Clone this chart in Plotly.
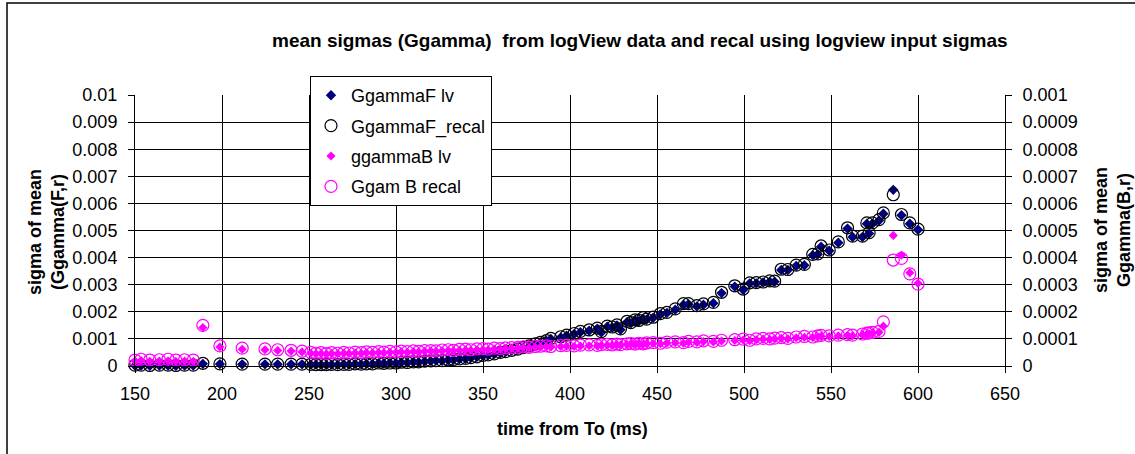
import plotly.graph_objects as go

time_ms = [
    150, 153.5, 158.5, 164, 169, 173.5, 178.5, 183.5,
    189, 198.8, 211.6, 224.7, 232, 239.7, 246,
    251, 254, 257, 260, 263, 266.5, 270, 273, 276.5, 280,
    283, 286.5, 290, 293, 296.5, 300, 303, 306.5, 310, 313,
    316.5, 320, 323, 326.5, 330, 333, 336.5, 340, 343, 346.5,
    350, 353, 356.5, 360, 363, 366.5, 370, 373, 376.5, 380,
    383, 386.5, 389, 394.7, 398, 402.4, 406, 411, 415.7, 418,
    421.4, 424.3, 427, 429, 432.8, 435, 437.4, 439.5, 442, 444,
    447.8, 451.9, 455.7, 460.5, 465.2, 468.1, 472.9, 476.7, 482.4, 487.1,
    494.7, 499.5, 503.3, 507.1, 511, 514.8, 517.6, 521.4, 525.2, 530,
    534.7, 539.5, 542.4, 544.3, 549, 554.2, 559.5, 562.4, 568.1, 570.6,
    571.9, 573.8, 577.6, 580.1, 585.8, 590.5, 595.3, 600,
]

ggammaF_lv = [
    0.00002, 0.00002, 0.00001, 0.00002, 0.00002, 0.00001, 0.00002, 0.00002,
    0.00008, 0.00007, 0.00006, 0.00006, 0.00006, 0.00006, 0.00006,
    0.00005, 0.00005, 0.00004, 0.00004, 0.00005, 0.00004, 0.00006, 0.00005, 0.00007, 0.00006,
    0.00008, 0.00007, 0.0001, 0.00009, 0.00011, 0.0001, 0.00013, 0.00012, 0.00015, 0.00014,
    0.00017, 0.00018, 0.0002, 0.00019, 0.00022, 0.00023, 0.00026, 0.00027, 0.0003, 0.00033,
    0.00038, 0.0004, 0.00044, 0.00048, 0.00052, 0.00057, 0.0006, 0.00066, 0.00072, 0.0008,
    0.00085, 0.00092, 0.001, 0.00105, 0.00112, 0.00118, 0.00125, 0.0013, 0.00138, 0.00124,
    0.00145, 0.00141, 0.0015, 0.00134, 0.00162, 0.00158, 0.00168, 0.00165, 0.00175, 0.00171,
    0.00178, 0.0019, 0.00196, 0.00208, 0.00226, 0.00228, 0.0022, 0.00226, 0.00232, 0.00269,
    0.00293, 0.00281, 0.00305, 0.00305, 0.00308, 0.00311, 0.00311, 0.00354, 0.00354, 0.00369,
    0.00372, 0.00409, 0.00412, 0.0044, 0.00425, 0.00455, 0.00507, 0.00476, 0.00476, 0.00525,
    0.00489, 0.00525, 0.00537, 0.00562, 0.0065, 0.00556, 0.00525, 0.00503,
]

ggammaF_recal = [
    0.00003, 0.00003, 0.00002, 0.00003, 0.00003, 0.00002, 0.00003, 0.00003,
    0.0001, 0.00008, 0.00007, 0.00007, 0.00007, 0.00007, 0.00007,
    0.00006, 0.00005, 0.00005, 0.00005, 0.00006, 0.00005, 0.00006, 0.00006, 0.00008, 0.00007,
    0.00008, 0.00008, 0.00011, 0.0001, 0.00011, 0.00011, 0.00014, 0.00013, 0.00015, 0.00015,
    0.00018, 0.00019, 0.0002, 0.0002, 0.00023, 0.00024, 0.00026, 0.00028, 0.00031, 0.00034,
    0.00039, 0.00041, 0.00045, 0.0005, 0.00053, 0.00058, 0.00062, 0.00068, 0.00074, 0.00082,
    0.00087, 0.00094, 0.00102, 0.00108, 0.00114, 0.0012, 0.00128, 0.00133, 0.0014, 0.00127,
    0.00147, 0.00144, 0.00152, 0.00137, 0.00165, 0.0016, 0.0017, 0.00168, 0.00178, 0.00173,
    0.0018, 0.00193, 0.00198, 0.00211, 0.0023, 0.0023, 0.00223, 0.00229, 0.00235, 0.00272,
    0.00296, 0.00284, 0.00307, 0.00308, 0.0031, 0.00314, 0.00313, 0.00357, 0.00356, 0.00372,
    0.00375, 0.00412, 0.00414, 0.00443, 0.00428, 0.00458, 0.0051, 0.00479, 0.00479, 0.00528,
    0.00492, 0.00528, 0.0054, 0.00565, 0.00632, 0.00559, 0.00528, 0.00505,
]

ggammaB_lv = [
    0.000018, 0.00002, 0.000017, 0.000018, 0.000019, 0.000017, 0.000018, 0.000017,
    0.000142, 0.00007, 0.000062, 0.00006, 0.000057, 0.000055, 0.000052,
    0.000047, 0.000045, 0.000046, 0.000044, 0.000046, 0.000045, 0.000047, 0.000046, 0.000048, 0.000047,
    0.000049, 0.000048, 0.00005, 0.000049, 0.000051, 0.00005, 0.000052, 0.000051, 0.000053, 0.000052,
    0.000054, 0.000055, 0.000054, 0.000056, 0.000057, 0.000056, 0.000058, 0.000059, 0.000058, 0.00006,
    0.000061, 0.00006, 0.000063, 0.000062, 0.000064, 0.000065, 0.000066, 0.000068, 0.000067, 0.000069,
    0.00007, 0.000071, 0.00007, 0.000072, 0.000073, 0.000072, 0.000074, 0.000075, 0.000074, 0.000076,
    0.000077, 0.000076, 0.000078, 0.000077, 0.000079, 0.00008, 0.000079, 0.000081, 0.00008, 0.000082,
    0.000083, 0.000082, 0.000085, 0.000086, 0.000084, 0.000088, 0.000087, 0.00009, 0.000089, 0.000092,
    0.000094, 0.000096, 0.000093, 0.000097, 0.000099, 0.000098, 0.0001, 0.000102, 0.0001, 0.000104,
    0.000106, 0.000105, 0.000108, 0.00011, 0.000109, 0.000111, 0.000113, 0.000112, 0.000115, 0.000118,
    0.000119, 0.000121, 0.000125, 0.000147, 0.000482, 0.000409, 0.000344, 0.000305,
]

ggamB_recal = [
    0.000022, 0.000025, 0.000022, 0.000023, 0.000025, 0.000022, 0.000023, 0.000022,
    0.00015, 0.000074, 0.000066, 0.000063, 0.00006, 0.000058, 0.000055,
    0.00005, 0.000047, 0.000049, 0.000046, 0.000049, 0.000047, 0.00005, 0.000048, 0.000051, 0.000049,
    0.000052, 0.00005, 0.000053, 0.000051, 0.000054, 0.000052, 0.000055, 0.000053, 0.000056, 0.000054,
    0.000057, 0.000057, 0.000056, 0.000059, 0.00006, 0.000058, 0.000061, 0.000062, 0.00006, 0.000063,
    0.000064, 0.000062, 0.000066, 0.000064, 0.000067, 0.000068, 0.000069, 0.000071, 0.000069, 0.000072,
    0.000073, 0.000074, 0.000072, 0.000075, 0.000076, 0.000074, 0.000077, 0.000078, 0.000076, 0.000079,
    0.00008, 0.000078, 0.000081, 0.000079, 0.000082, 0.000083, 0.000081, 0.000084, 0.000082, 0.000085,
    0.000086, 0.000084, 0.000088, 0.000089, 0.000086, 0.000091, 0.000089, 0.000093, 0.000091, 0.000095,
    0.000097, 0.000099, 0.000095, 0.0001, 0.000102, 0.0001, 0.000103, 0.000105, 0.000102, 0.000107,
    0.000109, 0.000107, 0.000111, 0.000113, 0.000111, 0.000114, 0.000116, 0.000114, 0.000118, 0.000121,
    0.000122, 0.000124, 0.000128, 0.000163, 0.000391, 0.000397, 0.00034, 0.000302,
]

x_ticks = [150, 200, 250, 300, 350, 400, 450, 500, 550, 600, 650]
y_left_ticks = [0, 0.001, 0.002, 0.003, 0.004, 0.005, 0.006, 0.007, 0.008, 0.009, 0.01]
y_left_labels = ["0", "0.001", "0.002", "0.003", "0.004", "0.005", "0.006", "0.007", "0.008", "0.009", "0.01"]
y_right_ticks = [0, 0.0001, 0.0002, 0.0003, 0.0004, 0.0005, 0.0006, 0.0007, 0.0008, 0.0009, 0.001]
y_right_labels = ["0", "0.0001", "0.0002", "0.0003", "0.0004", "0.0005", "0.0006", "0.0007", "0.0008", "0.0009", "0.001"]

for s in (ggammaF_lv, ggammaF_recal, ggammaB_lv, ggamB_recal):
    assert len(s) == len(time_ms), (len(s), len(time_ms))

FONT = "Liberation Sans, Arial, sans-serif"
FS = 18

fig = go.Figure()
fig.add_trace(go.Scatter(
    x=time_ms, y=ggammaF_lv, mode="markers", name="GgammaF lv", legendgroup="a",
    marker=dict(symbol="diamond", size=8, color="#000080", line=dict(width=0)),
    cliponaxis=False))
fig.add_trace(go.Scatter(
    x=time_ms, y=ggammaF_recal, mode="markers", name="GgammaF_recal", legendgroup="b",
    marker=dict(symbol="circle-open", size=12, color="#000000", line=dict(width=1.2)),
    cliponaxis=False))
fig.add_trace(go.Scatter(
    x=time_ms, y=ggammaB_lv, mode="markers", name="ggammaB lv", legendgroup="c", yaxis="y2",
    marker=dict(symbol="diamond", size=7, color="#FF00FF", line=dict(width=0)),
    cliponaxis=False))
fig.add_trace(go.Scatter(
    x=time_ms, y=ggamB_recal, mode="markers", name="Ggam B recal", legendgroup="d", yaxis="y2",
    marker=dict(symbol="circle-open", size=12, color="#FF00FF", line=dict(width=1.2)),
    cliponaxis=False))

L, R, T, B = 135, 130, 95, 88
W, H = 1135, 454
pw, ph = W - L - R, H - T - B

def px(xp):
    return (xp - L) / pw

def py(yp):
    return (H - B - yp) / ph

fig.update_layout(
    width=W, height=H,
    margin=dict(l=L, r=R, t=T, b=B, pad=0),
    paper_bgcolor="white", plot_bgcolor="white",
    font=dict(family=FONT, size=FS, color="black"),
    showlegend=True,
    legend=dict(
        x=px(310), y=py(76), xanchor="left", yanchor="top",
        bgcolor="white", bordercolor="black", borderwidth=1,
        font=dict(family=FONT, size=FS, color="black"),
        tracegroupgap=4, itemsizing="trace",
    ),
    xaxis=dict(
        range=[150, 650], tickvals=x_ticks, ticktext=[str(v) for v in x_ticks],
        showgrid=True, gridcolor="black", gridwidth=1,
        showline=True, linecolor="black", linewidth=1, mirror=False,
        ticks="outside", ticklen=6, tickcolor="black", ticklabelstandoff=5,
        zeroline=False, tickfont=dict(size=FS),
    ),
    yaxis=dict(
        range=[0, 0.01], tickvals=y_left_ticks, ticktext=y_left_labels,
        showgrid=True, gridcolor="black", gridwidth=1,
        showline=True, linecolor="black", linewidth=1,
        ticks="outside", ticklen=6, tickcolor="black", ticklabelstandoff=7,
        zeroline=False, tickfont=dict(size=FS),
    ),
    yaxis2=dict(
        range=[0, 0.001], tickvals=y_right_ticks, ticktext=y_right_labels,
        overlaying="y", side="right", showgrid=False,
        showline=True, linecolor="black", linewidth=1,
        ticks="outside", ticklen=6, tickcolor="black", ticklabelstandoff=7,
        zeroline=False, tickfont=dict(size=FS),
    ),
    annotations=[
        dict(text="<b>mean sigmas (Ggamma)  from logView data and recal using logview input sigmas</b>",
             xref="paper", yref="paper", x=px(640), y=py(40), xanchor="center", yanchor="middle",
             showarrow=False, font=dict(size=19)),
        dict(text="<b>sigma of mean<br>(Ggamma(F,r)</b>", textangle=-90,
             xref="paper", yref="paper", x=px(46), y=py(232), xanchor="center", yanchor="middle",
             showarrow=False, font=dict(size=FS)),
        dict(text="<b>sigma of mean<br>Ggamma(B,r)</b>", textangle=-90,
             xref="paper", yref="paper", x=px(1112), y=py(230), xanchor="center", yanchor="middle",
             showarrow=False, font=dict(size=FS)),
        dict(text="<b>time from To (ms)</b>",
             xref="paper", yref="paper", x=px(572), y=py(429), xanchor="center", yanchor="middle",
             showarrow=False, font=dict(size=FS)),
    ],
    shapes=[
        dict(type="rect", xref="paper", yref="paper",
             x0=px(7), x1=px(1300), y0=py(470), y1=py(3),
             line=dict(color="black", width=1.5), fillcolor="rgba(0,0,0,0)", layer="below"),
    ],
)

fig.write_html("out.html")
